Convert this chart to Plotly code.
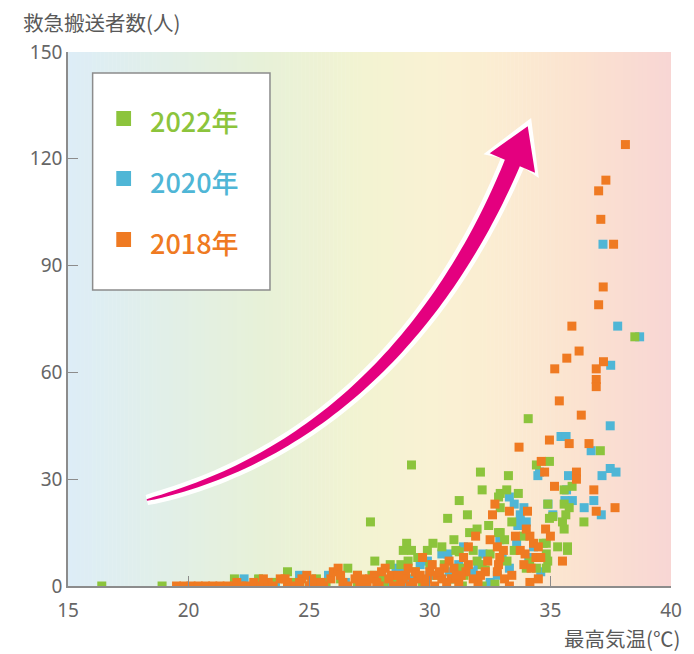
import plotly.graph_objects as go
import numpy as np

# ---------------- data ----------------
x2018 = [19.5, 19.8, 20.1, 20.4, 20.7, 21.0, 21.3, 21.6, 21.9, 22.4,
         22.7, 23.0, 23.3, 23.5, 23.8, 24.1, 24.4, 24.7, 25.0, 25.3,
         25.6, 25.9, 26.0, 26.2, 26.4, 26.6, 26.9, 27.1, 27.4, 27.7,
         27.9, 28.15, 28.3, 28.5, 28.8, 29.0, 29.2, 29.5, 29.7, 29.8,
         30.0, 30.2, 30.5, 30.8, 31.0, 30.9, 31.5, 31.6, 31.6, 31.9,
         32.0, 32.3, 32.6, 32.7, 32.8, 33.05, 32.9, 32.85, 32.8, 33.1,
         33.3, 33.55, 33.7, 33.75, 33.95, 34.05, 34.15, 34.3, 34.4, 34.5,
         34.6, 34.15, 34.62, 34.76, 34.8, 35.0, 34.96, 35.17, 35.5, 35.78,
         36.08, 36.08, 36.6, 36.8, 36.9, 37.68, 35.37, 36.28, 35.18, 35.68,
         36.19, 35.89, 36.9, 37.2, 36.9, 36.9, 37.0, 37.19, 37.62, 37.09,
         37.0, 37.3, 38.11, 24.9, 27.2, 28.9, 29.4, 30.3, 30.6, 31.2,
         31.3, 28.0, 28.4, 29.1, 29.6, 33.3, 22.0, 22.2, 23.1, 24.0,
         24.6, 25.1, 25.5, 26.3, 27.0, 27.5, 27.8, 28.7, 29.3, 29.9,
         30.1, 30.4, 30.7, 31.1, 31.4, 31.8, 32.1, 32.4, 32.5, 33.4,
         33.9, 34.0, 34.2, 34.5]
y2018 = [0, 0, 0, 0, 0, 0, 0, 0, 0, 0,
         1, 0, 1, 0, 2, 1, 0, 2, 0, 1,
         0, 2, 4, 5, 1, 0, 2, 0, 1, 3,
         0, 5, 2, 0, 1, 3, 0, 2, 8, 1,
         4, 0, 2, 7, 5, 2, 4, 11, 6, 14,
         1, 4, 20, 23, 11, 10, 8, 6, 4, 2,
         21, 14, 39, 10, 9, 21, 14, 12, 8, 11,
         8, 1, 35, 32, 16, 14, 41, 28, 7, 40,
         32, 30, 40, 27, 21, 22, 52, 48, 61, 64,
         66, 73, 61, 63, 58, 56, 79, 84, 96, 103,
         111, 114, 124, 3, 2, 2, 4, 3, 5, 1,
         3, 4, 3, 5, 3, 0, 1, 0, 2, 2,
         1, 2, 1, 3, 3, 2, 1, 3, 1, 2,
         6, 4, 1, 3, 8, 2, 3, 7, 13, 3,
         6, 16, 5, 2]

x2020 = [22.3, 23.0, 23.6, 24.6, 25.2, 25.8, 26.5, 27.2, 27.8, 28.4,
         28.8, 29.3, 29.6, 30.0, 30.5, 30.75, 30.8, 31.0, 31.4, 31.8,
         32.2, 32.5, 32.0, 33.3, 32.9, 33.65, 33.75, 33.75, 34.0, 33.3,
         33.5, 34.3, 34.6, 35.1, 34.9, 35.67, 35.91, 36.8, 37.11, 34.48,
         34.55, 35.75, 37.48, 37.72, 37.14, 36.69, 35.44, 35.65, 37.48, 37.5,
         37.79, 38.7, 37.18, 28.0, 28.6, 29.0, 29.9, 31.2, 32.8, 33.0,
         33.6, 34.1, 36.4, 35.6, 33.9]
y2020 = [2, 0, 1, 3, 1, 3, 1, 0, 2, 1,
         4, 2, 6, 3, 9, 9, 4, 2, 11, 4,
         9, 1, 6, 5, 13, 17, 18, 20, 18, 25,
         23, 11, 4, 20, 23, 27, 24, 24, 20, 31,
         32, 31, 33, 32, 31, 38, 42, 42, 45, 62,
         73, 70, 96, 3, 5, 1, 7, 6, 3, 8,
         12, 8, 22, 24, 22]

x2022 = [16.4, 18.9, 21.9, 22.9, 23.5, 24.1, 24.4, 25.0, 25.3, 25.7,
         26.3, 26.6, 27.0, 27.54, 27.72, 28.0, 28.36, 28.6, 28.9, 29.04,
         29.24, 29.24, 29.4, 29.7, 30.13, 30.0, 30.3, 30.74, 31.08, 31.22,
         31.35, 31.56, 31.65, 31.96, 32.1, 32.17, 32.17, 32.44, 32.85, 32.92,
         32.92, 33.19, 33.26, 33.67, 34.08, 34.42, 34.96, 37.07, 35.57, 35.78,
         35.64, 35.57, 35.5, 35.1, 34.96, 36.39, 35.3, 35.71, 35.71, 34.83,
         34.89, 34.42, 34.0, 34.14, 34.83, 38.5, 32.7, 31.96, 32.17, 32.3,
         31.22, 30.9, 32.85, 33.5, 33.9, 34.7, 34.89, 35.9, 35.57, 32.92,
         34.83, 29.1, 31.42, 27.0, 27.6, 28.1, 28.8, 29.5, 29.9, 30.5,
         30.6, 31.0, 31.3, 31.8, 32.5, 33.2, 33.4, 33.1]
y2022 = [0, 0, 2, 2, 1, 4, 1, 0, 2, 1,
         2, 5, 1, 18, 7, 3, 6, 2, 10, 12,
         10, 34, 4, 1, 12, 6, 3, 19, 10, 24,
         0, 20, 15, 16, 32, 0, 27, 17, 25, 22,
         26, 27, 31, 26, 47, 34, 35, 38, 23, 22,
         20, 16, 18, 19.5, 19, 18, 11, 11, 10, 9,
         7, 5, 5, 7, 5, 70, 0.5, 7, 6, 4.5,
         9.6, 2, 15, 10, 14, 12, 23, 28, 27, 15,
         12, 7, 3, 3, 3, 1, 6, 8, 10, 11,
         6, 13, 5, 10, 9, 7, 18, 13]

x_ticks = [15, 20, 25, 30, 35, 40]
y_ticks = [0, 30, 60, 90, 120, 150]
series_names = ["2022年", "2020年", "2018年"]
series_colors = ["#8cc43c", "#4fb6d6", "#ef7a22"]

# ---------------- layout geometry ----------------
W, H = 694, 654
L, R, T, B = 68, 680, 52, 586
XR = (15, 40)
YR = (0, 150)


def px2x(px):
    return XR[0] + (px - L) / (R - L) * (XR[1] - XR[0])


def py2y(py):
    return YR[0] + (B - py) / (B - T) * (YR[1] - YR[0])


def ppx(px):
    return (px - L) / (R - L)


def ppy(py):
    return (B - py) / (B - T)


fig = go.Figure()
for xs, ys, c in [(x2020, y2020, series_colors[1]),
                  (x2022, y2022, series_colors[0]),
                  (x2018, y2018, series_colors[2])]:
    fig.add_trace(go.Scatter(x=xs, y=ys, mode="markers",
                             marker=dict(symbol="square", size=9, color=c,
                                         line=dict(width=0)),
                             showlegend=False, hoverinfo="skip"))

shapes = []
# background gradient
stops = [(15, (221, 237, 247)), (19, (225, 239, 232)), (23, (231, 241, 216)),
         (27, (242, 243, 210)), (30, (249, 242, 211)), (33, (251, 236, 210)),
         (36, (251, 227, 208)), (40, (248, 214, 212))]
sx = [s[0] for s in stops]
N = 150
edges = np.linspace(15, 40, N + 1)
for i in range(N):
    xm = 0.5 * (edges[i] + edges[i + 1])
    col = [int(round(np.interp(xm, sx, [s[1][k] for s in stops]))) for k in range(3)]
    shapes.append(dict(type="rect", xref="x", yref="paper",
                       x0=edges[i], x1=min(40, edges[i + 1] + 0.02), y0=0, y1=1,
                       fillcolor="rgb(%d,%d,%d)" % tuple(col),
                       line=dict(width=0), layer="below"))

# curved arrow (pixel geometry -> data coords)
P0 = np.array([148.0, 500.0]); P1 = np.array([348.0, 452.0])
P2 = np.array([461.0, 300.0]); P3 = np.array([519.0, 163.0])
ts = np.linspace(0, 1, 80)


def bez(t):
    return ((1 - t) ** 3) * P0 + 3 * ((1 - t) ** 2) * t * P1 + 3 * (1 - t) * t * t * P2 + t ** 3 * P3


def dbez(t):
    return 3 * ((1 - t) ** 2) * (P1 - P0) + 6 * (1 - t) * t * (P2 - P1) + 3 * t * t * (P3 - P2)


def arrow_poly(extra, head_extra):
    left, right = [], []
    for t in ts:
        p = bez(t)
        d = dbez(t); d = d / np.linalg.norm(d)
        n = np.array([-d[1], d[0]])
        hw = (1.5 + 15 * t ** 0.6) / 2 + extra
        left.append(p + n * hw)
        right.append(p - n * hw)
    d = dbez(1.0); d = d / np.linalg.norm(d)
    n = np.array([-d[1], d[0]])
    base = P3 - d * head_extra * 0.6
    tip = P3 + d * (40 + head_extra * 1.6)
    c1 = base + n * (25 + head_extra)
    c2 = base - n * (25 + head_extra)
    pts = left + [c1, tip, c2] + right[::-1]
    return "M " + " L ".join("%.4f,%.4f" % (px2x(p[0]), py2y(p[1])) for p in pts) + " Z"


shapes.append(dict(type="path", xref="x", yref="y", path=arrow_poly(4.5, 5.5),
                   fillcolor="white", line=dict(width=0)))
shapes.append(dict(type="path", xref="x", yref="y", path=arrow_poly(0, 0),
                   fillcolor="#e4007f", line=dict(width=0)))

# legend box
shapes.append(dict(type="rect", xref="paper", yref="paper",
                   x0=ppx(93), x1=ppx(273), y0=ppy(290), y1=ppy(73),
                   fillcolor="white", line=dict(color="#8c8c8c", width=1.5)))
annotations = []
rows = [119, 179, 240]
for name, col, ry in zip(series_names, series_colors, rows):
    shapes.append(dict(type="rect", xref="paper", yref="paper",
                       x0=ppx(117), x1=ppx(132), y0=ppy(ry + 7), y1=ppy(ry - 8),
                       fillcolor=col, line=dict(width=0)))
    annotations.append(dict(xref="paper", yref="paper", x=ppx(149), y=ppy(ry + 2),
                            text=name, showarrow=False, xanchor="left", yanchor="middle",
                            font=dict(family="Noto Sans CJK JP", size=27, color=col,
                                      weight=500)))

# axis titles
annotations.append(dict(xref="paper", yref="paper", x=ppx(20), y=ppy(22),
                        text="救急搬送者数(人)", showarrow=False, xanchor="left",
                        yanchor="middle",
                        font=dict(family="Noto Sans CJK JP", size=20.5, color="#595959")))
annotations.append(dict(xref="paper", yref="paper", x=ppx(691), y=ppy(638),
                        text="最高気温(℃)", showarrow=False, xanchor="right",
                        yanchor="middle",
                        font=dict(family="Noto Sans CJK JP", size=20.5, color="#595959")))

fig.update_layout(
    width=W, height=H,
    margin=dict(l=L, r=W - R, t=T, b=H - B),
    paper_bgcolor="white", plot_bgcolor="white",
    shapes=shapes, annotations=annotations,
    xaxis=dict(range=list(XR), tickvals=x_ticks, ticktext=[str(v) for v in x_ticks],
               showgrid=False, zeroline=False, showline=True, linecolor="#8c8c8c",
               linewidth=1.5, ticks="inside", ticklen=10, tickcolor="#8c8c8c",
               tickwidth=1.2, ticklabelstandoff=6,
               tickfont=dict(family="Noto Sans", size=19, color="#666666")),
    yaxis=dict(range=list(YR), tickvals=y_ticks, ticktext=[str(v) for v in y_ticks],
               showgrid=False, zeroline=False, showline=True, linecolor="#8c8c8c",
               linewidth=1.5, ticks="inside", ticklen=10, tickcolor="#8c8c8c",
               tickwidth=1.2,
               tickfont=dict(family="Noto Sans", size=19, color="#666666")),
)

fig.write_html("out.html", config={"displayModeBar": False},
               post_script="document.body.style.margin='0px';")
